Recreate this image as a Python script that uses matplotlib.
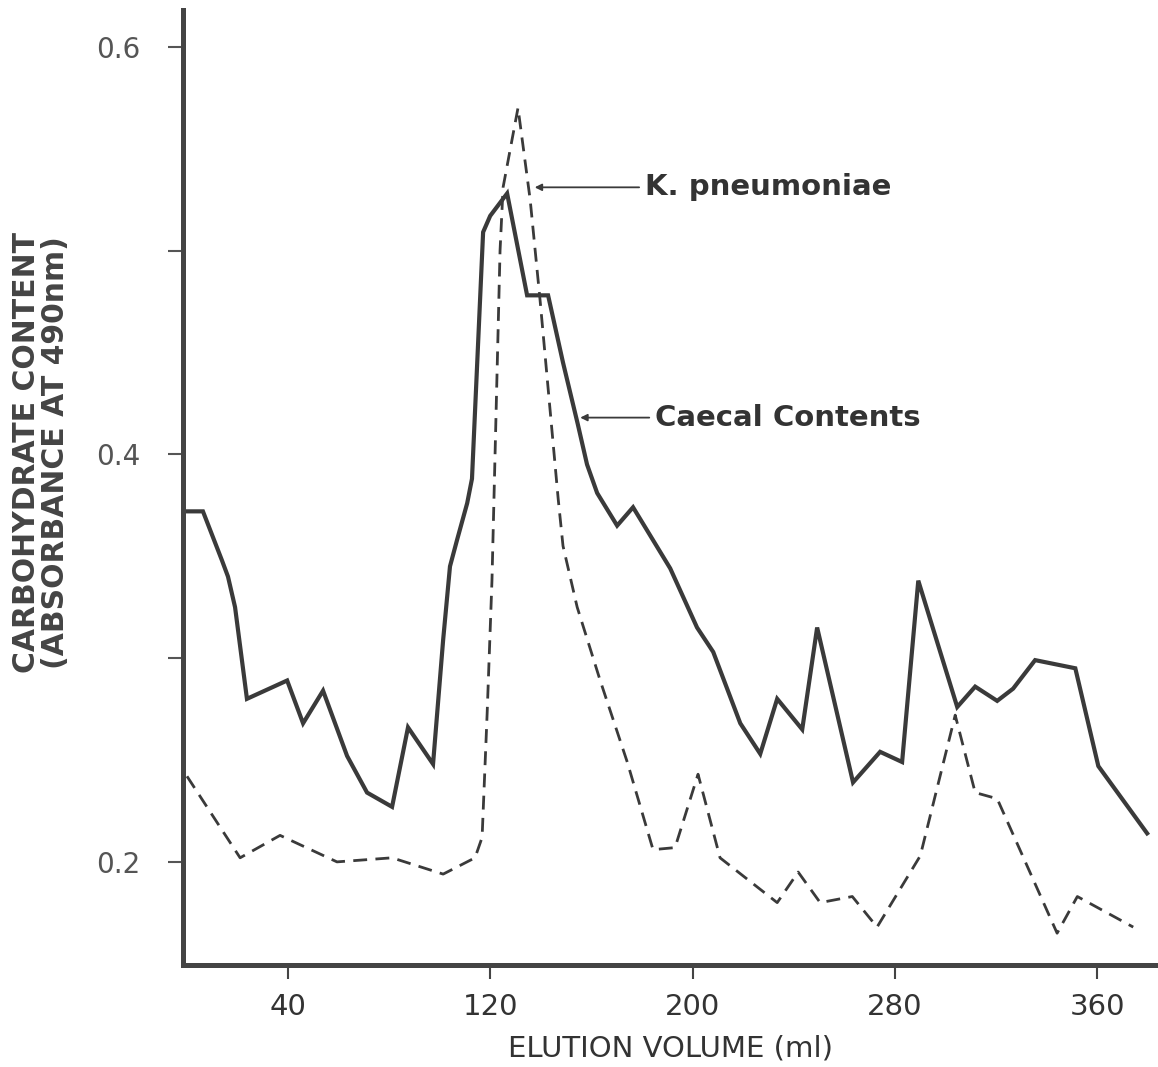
import matplotlib.pyplot as plt

# elution volume (ml) and absorbance at 490nm
caecal_ml = [0, 6.3, 13.8, 16.2, 19.0, 23.7, 39.6, 45.9, 53.8, 63.3, 71.2, 81.1,
             87.4, 97.3, 101.3, 104.0, 106.8, 110.8, 112.7, 117.1, 119.9, 126.6,
             134.5, 142.8, 148.7, 154.5, 158.2, 162.2, 170.1, 176.4, 191.1, 201.7,
             208.1, 218.8, 226.7, 233.4, 243.3, 249.2, 263.4, 274.1, 282.8, 289.2,
             293.9, 304.6, 311.7, 320.4, 326.7, 335.4, 351.3, 360.4, 379.7]
caecal_abs = [0.372, 0.372, 0.348, 0.340, 0.325, 0.280, 0.289, 0.268, 0.284, 0.252,
              0.234, 0.227, 0.266, 0.248, 0.309, 0.345, 0.358, 0.376, 0.388, 0.509,
              0.517, 0.528, 0.478, 0.478, 0.445, 0.415, 0.395, 0.381, 0.365, 0.374,
              0.344, 0.315, 0.303, 0.268, 0.253, 0.280, 0.265, 0.315, 0.239, 0.254,
              0.249, 0.338, 0.319, 0.276, 0.286, 0.279, 0.285, 0.299, 0.295, 0.247,
              0.214]

kpn_ml = [0, 21.0, 36.8, 59.3, 81.1, 101.3, 113.9, 116.7, 118.7, 120.6, 123.8,
          125.0, 130.9, 135.7, 139.6, 146.8, 148.7, 154.3, 163.4, 174.1, 184.3,
          193.0, 202.1, 210.8, 233.4, 241.7, 250.4, 263.1, 272.9, 290.0, 303.8,
          311.7, 320.4, 344.1, 352.1, 374.2]
kpn_abs = [0.242, 0.202, 0.213, 0.200, 0.202, 0.194, 0.202, 0.212, 0.273, 0.338,
           0.500, 0.531, 0.570, 0.525, 0.476, 0.378, 0.355, 0.325, 0.289, 0.249,
           0.206, 0.207, 0.243, 0.202, 0.180, 0.195, 0.180, 0.183, 0.168, 0.203,
           0.272, 0.234, 0.231, 0.165, 0.183, 0.168]

x_ticks = [40, 120, 200, 280, 360]
y_ticks = [0.2, 0.3, 0.4, 0.5, 0.6]
y_labels = ['0.2', '', '0.4', '', '0.6']

ink = '#3a3a3a'

fig = plt.figure(figsize=(11.58, 10.67), dpi=100)
ax = fig.add_axes([0.158, 0.0956, 0.842, 0.895])

ax.plot(caecal_ml, caecal_abs, color=ink, lw=3.0, solid_joinstyle='miter')
ax.plot(kpn_ml, kpn_abs, color=ink, lw=2.0, dashes=(5, 3))

ax.set_xlim(-1.6, 384)
ax.set_ylim(0.1494, 0.618)

for side in ['top', 'right']:
    ax.spines[side].set_visible(False)
for side in ['left', 'bottom']:
    ax.spines[side].set_linewidth(3.6)
    ax.spines[side].set_color('#444444')

ax.set_xticks(x_ticks)
ax.set_xticklabels([str(v) for v in x_ticks], fontsize=21, color='#333333',
                   family=['Liberation Sans Narrow', 'DejaVu Sans'])
ax.tick_params(axis='x', direction='out', length=10, width=1.5, color='#444444', pad=10)

ax.set_yticks(y_ticks)
ax.set_yticklabels(y_labels, fontsize=20, color='#555555',
                   family=['DejaVu Sans'])
ax.tick_params(axis='y', direction='out', length=11, width=1.5, color='#555555', pad=20)

ax.set_xlabel('ELUTION VOLUME (ml)', fontsize=21, color='#333333', labelpad=10,
              family=['Liberation Sans Narrow', 'DejaVu Sans'])
ax.set_ylabel('CARBOHYDRATE CONTENT\n(ABSORBANCE AT 490nm)', fontsize=21.5,
              color='#444444', fontweight='bold', linespacing=1.0,
              family=['DejaVu Sans'])
ax.yaxis.set_label_coords(-0.116, 0.537)

ax.annotate('K. pneumoniae', xy=(137.5, 0.531), xytext=(181, 0.531),
            fontsize=21, fontweight='bold', color='#333333', va='center',
            family=['DejaVu Sans'],
            arrowprops=dict(arrowstyle='-|>', color=ink, lw=1.3,
                            mutation_scale=10, shrinkA=2, shrinkB=0))
ax.annotate('Caecal Contents', xy=(155.5, 0.418), xytext=(185, 0.418),
            fontsize=21, fontweight='bold', color='#333333', va='center',
            family=['DejaVu Sans'],
            arrowprops=dict(arrowstyle='-|>', color=ink, lw=1.3,
                            mutation_scale=10, shrinkA=2, shrinkB=0))

fig.savefig('out.png', dpi=100)
